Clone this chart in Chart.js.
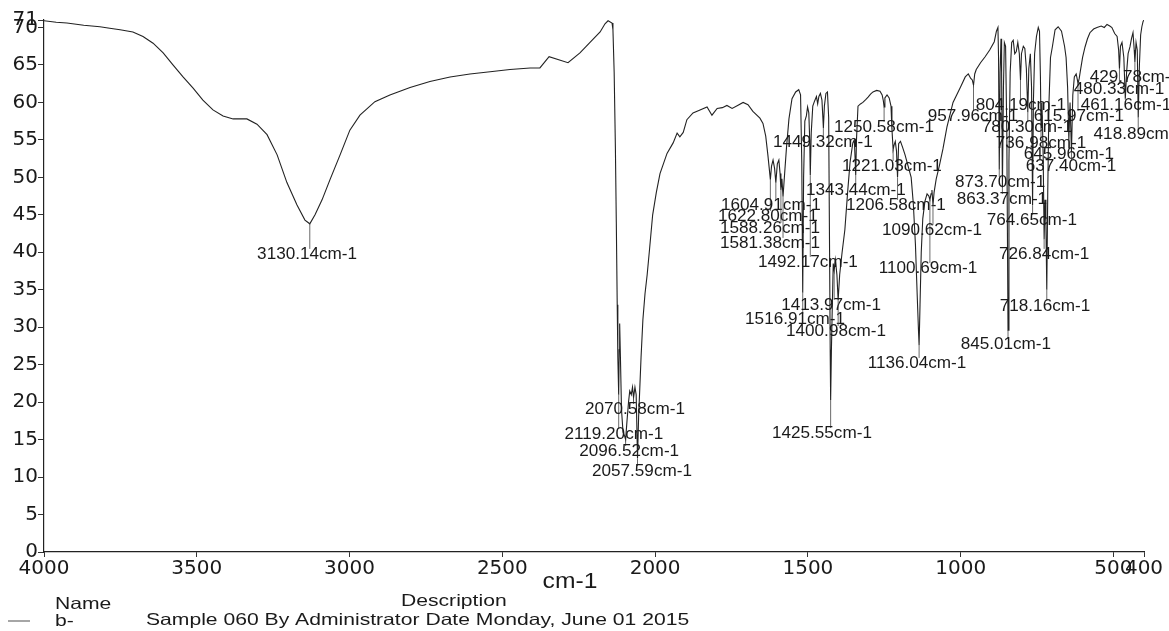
<!DOCTYPE html>
<html>
<head>
<meta charset="utf-8">
<script src="https://cdn.jsdelivr.net/npm/chart.js@4.4.1/dist/chart.umd.min.js"></script>
<style>
  body { margin: 0; background: #fff; }
  canvas { display: block; }
</style>
</head>
<body>
<canvas id="espectro" width="1169" height="631"></canvas>
<script>
// espectro IR: numero de onda (cm-1) x transmitancia (%T)
const numeroOnda = [
    4000, 3960, 3925, 3870, 3817, 3785, 3751, 3709, 3676, 3643, 3610, 3578, 3545, 3512, 3480, 3447,
    3414, 3381, 3336, 3303, 3270, 3237, 3205, 3172, 3146, 3130.14, 3113, 3090, 3064, 3031, 2999, 2966,
    2917, 2868, 2802, 2737, 2671, 2606, 2540, 2475, 2409, 2377, 2347, 2285, 2246, 2213, 2180, 2164,
    2154, 2141, 2138, 2134, 2130, 2127, 2124, 2122, 2119.20, 2117.5, 2116, 2113.5, 2110, 2105, 2100, 2096.52,
    2092, 2087, 2083, 2078, 2074, 2070.58, 2066, 2062, 2057.59, 2054, 2050, 2046, 2040, 2033, 2026, 2018,
    2008, 1996, 1984, 1961, 1941, 1928, 1919, 1908, 1896, 1876, 1853, 1830, 1814, 1797, 1780, 1765,
    1748, 1730, 1712, 1696, 1680, 1657, 1647, 1638, 1631, 1627, 1622.80, 1619, 1614, 1609, 1604.91, 1600,
    1595, 1591, 1588.26, 1585, 1581.38, 1577, 1570, 1562, 1552, 1540, 1530, 1524, 1520, 1516.91, 1514, 1510,
    1505, 1501, 1497, 1494, 1492.17, 1489, 1484, 1478, 1472, 1468, 1464, 1459, 1454, 1451, 1449.32, 1446,
    1441, 1436, 1432, 1429, 1427, 1425.55, 1423, 1420, 1417, 1413.97, 1410, 1405, 1400.98, 1396, 1388, 1379,
    1370, 1362, 1353, 1348, 1345.5, 1343.44, 1341, 1336, 1328, 1320, 1310, 1303, 1295, 1287, 1275, 1264,
    1257, 1253, 1250.58, 1248, 1241, 1234, 1228, 1225, 1221.03, 1218, 1214, 1210, 1206.58, 1203, 1197, 1190,
    1182, 1172, 1162, 1155, 1148, 1142, 1138, 1136.04, 1133, 1129, 1124, 1117, 1110, 1104, 1100.69, 1097,
    1094, 1090.62, 1087, 1080, 1070, 1058, 1045, 1025, 1000, 985, 975, 967, 962, 957.96, 954, 949,
    935, 920, 905, 890, 883, 878, 876, 873.70, 871, 868, 866, 863.37, 860, 857, 853, 849,
    845.01, 842, 838, 833, 828, 823, 818, 813, 808, 804.19, 801, 795, 790, 785, 780.30, 777,
    772, 768, 764.65, 762, 758, 752, 746, 742, 739, 736.98, 734, 730, 726.84, 724, 721, 718.16,
    715, 711, 706, 700, 691, 681, 670, 660, 655, 650, 645.96, 642, 637.40, 633, 628, 622,
    618, 615.97, 612, 609, 601, 593, 585, 577, 565, 554, 540, 530, 521, 512, 505, 496,
    488, 483, 480.33, 477, 472, 466, 461.16, 457, 452, 446, 441, 436, 432, 429.78, 426, 422,
    418.89, 415, 411, 407, 403, 400
];
const transmitancia = [
    70.9, 70.7, 70.6, 70.3, 70.1, 69.9, 69.7, 69.4, 68.8, 67.9, 66.6, 65.0, 63.4, 61.9, 60.3, 59.0,
    58.2, 57.8, 57.8, 57.1, 55.7, 53.0, 49.3, 46.3, 44.3, 43.8, 45.0, 47.0, 49.7, 53.0, 56.3, 58.3,
    60.1, 61.0, 62.0, 62.8, 63.4, 63.8, 64.1, 64.4, 64.6, 64.6, 66.1, 65.3, 66.6, 68.0, 69.4, 70.5,
    70.9, 70.6, 69.7, 64.0, 54.0, 44.0, 33.0, 26.0, 21.0, 27.0, 30.5, 26.0, 19.0, 16.0, 15.5, 15.0,
    17.5, 20.0, 21.5, 21.0, 22.0, 20.6, 22.0, 21.0, 12.5, 18.0, 22.0, 26.0, 31.0, 34.5, 37.0, 40.5,
    45.0, 48.0, 50.5, 53.2, 54.6, 55.9, 55.4, 56.0, 57.7, 58.6, 59.0, 59.4, 58.3, 59.2, 59.3, 59.6,
    59.2, 59.6, 60.0, 59.7, 58.8, 57.9, 57.2, 55.5, 53.0, 51.4, 49.7, 51.5, 52.3, 51.2, 49.3, 51.8,
    52.3, 50.5, 48.3, 49.8, 47.4, 50.0, 54.0, 57.8, 60.5, 61.4, 61.7, 61.0, 52.0, 34.6, 50.0, 57.5,
    58.2, 59.4, 58.6, 55.0, 50.3, 56.0, 59.5, 60.2, 60.8, 59.8, 60.8, 61.2, 60.3, 58.0, 56.6, 59.5,
    61.2, 61.4, 58.0, 40.0, 27.0, 20.3, 27.0, 33.0, 38.5, 37.6, 39.0, 37.0, 33.6, 37.0, 40.0, 43.0,
    48.0, 52.0, 54.6, 55.0, 52.5, 50.3, 55.0, 59.5, 59.8, 60.0, 60.4, 60.7, 61.1, 61.4, 61.6, 61.5,
    61.0, 60.2, 59.4, 60.6, 61.0, 60.6, 59.5, 56.5, 53.7, 54.3, 54.8, 53.5, 50.0, 54.5, 54.8, 54.0,
    53.0, 51.5, 50.0, 46.5, 41.0, 34.0, 29.5, 27.6, 33.0, 40.0, 44.5, 46.8, 47.8, 47.5, 47.0, 47.8,
    48.3, 46.3, 48.0, 49.8, 51.5, 53.8, 56.7, 60.0, 62.1, 63.4, 63.8, 63.2, 63.0, 62.3, 63.8, 64.4,
    65.3, 66.1, 67.0, 68.1, 69.5, 70.0, 66.0, 51.0, 64.0, 68.5, 64.0, 48.6, 62.0, 68.0, 67.5, 56.0,
    29.6, 52.0, 64.0, 68.0, 68.3, 66.5, 66.8, 68.0, 66.5, 63.0, 66.5, 67.5, 67.2, 64.5, 58.7, 64.5,
    66.5, 62.0, 46.3, 60.0, 66.5, 68.8, 70.0, 69.5, 63.5, 56.6, 60.0, 53.0, 41.7, 47.0, 44.0, 35.0,
    48.0, 60.0, 66.0, 67.4, 69.7, 70.1, 69.5, 67.5, 66.0, 62.0, 55.0, 60.0, 53.4, 61.0, 63.4, 63.8,
    63.0, 62.5, 63.2, 64.0, 66.0, 67.4, 68.5, 69.3, 69.8, 70.0, 70.2, 70.0, 70.4, 70.2, 70.0, 69.2,
    68.8, 67.0, 64.5, 67.5, 68.0, 66.0, 60.5, 64.0, 66.5, 67.4, 68.5, 69.3, 67.0, 65.4, 68.0, 67.0,
    58.0, 65.0, 69.0, 70.1, 70.8, 71.0
];

// picos marcados e onde fica o rotulo de cada um (cm-1, %T)
const picos = [
    3130.14, 2119.20, 2096.52, 2070.58, 2057.59, 1622.80, 1604.91, 1588.26, 1581.38, 1516.91,
    1492.17, 1449.32, 1425.55, 1413.97, 1400.98, 1343.44, 1250.58, 1221.03, 1206.58, 1136.04,
    1100.69, 1090.62, 957.96, 873.70, 863.37, 845.01, 804.19, 780.30, 764.65, 736.98,
    726.84, 718.16, 645.96, 637.40, 615.97, 480.33, 461.16, 429.78, 418.89
];
const rotuloWn = [
    3139, 2135, 2085, 2066, 2043, 1631, 1621, 1624, 1624, 1542,
    1500, 1451, 1454, 1424, 1408, 1343, 1251, 1225, 1212, 1143,
    1107, 1094, 960, 871, 865, 852, 803, 783, 767, 737,
    727, 724, 646, 639, 613, 482, 459, 430, 417
];
const rotuloT = [
    39.65, 15.62, 13.35, 18.96, 10.68, 44.73, 46.19, 43.12, 41.12, 30.97,
    38.58, 54.61, 15.75, 32.84, 29.37, 48.20, 56.61, 51.40, 46.19, 25.10,
    37.78, 42.86, 58.08, 49.27, 46.99, 27.64, 59.55, 56.61, 44.19, 54.47,
    39.65, 32.71, 53.00, 51.40, 58.08, 61.68, 59.55, 63.28, 55.67
];

const ticksX = [4000, 3500, 3000, 2500, 2000, 1500, 1000, 500, 400];
const ticksY = [0, 5, 10, 15, 20, 25, 30, 35, 40, 45, 50, 55, 60, 65, 70, 71];

// texto um pouco alargado na horizontal, como na impressao original
function escrever(ctx, texto, x, y, fonte, esticar, alinhar) {
    ctx.save();
    ctx.translate(x, y);
    ctx.scale(esticar, 1);
    ctx.font = fonte;
    ctx.textAlign = alinhar || 'center';
    ctx.textBaseline = 'middle';
    ctx.fillText(texto, 0, 0);
    ctx.restore();
}

const rotulos = {
    id: 'rotulos',
    afterDraw(chart) {
        const { ctx, scales: { x, y } } = chart;
        ctx.save();
        ctx.fillStyle = '#1a1a1a';
        ctx.strokeStyle = '#444';
        ctx.lineWidth = 0.8;

        picos.forEach((pico, i) => {
            const px = x.getPixelForValue(pico);
            const py = y.getPixelForValue(transmitancia[numeroOnda.indexOf(pico)]);
            const lx = x.getPixelForValue(rotuloWn[i]);
            const ly = y.getPixelForValue(rotuloT[i]);
            if (ly - 6 > py) {
                ctx.beginPath();
                ctx.moveTo(px, py);
                ctx.lineTo(px, ly - 6);
                ctx.stroke();
            }
            escrever(ctx, pico.toFixed(2) + 'cm-1', lx, ly, '16px "Liberation Sans"', 1.07);
        });

        // titulo do eixo e rodape
        escrever(ctx, 'cm-1', 570, 582, '22px "Liberation Sans"', 1.12);
        escrever(ctx, 'Name', 55, 604, '16.5px "Liberation Sans"', 1.28, 'left');
        escrever(ctx, 'Description', 401, 601, '16.5px "Liberation Sans"', 1.28, 'left');
        escrever(ctx, 'b-', 55, 621, '16.5px "Liberation Sans"', 1.28, 'left');
        escrever(ctx, 'Sample 060 By Administrator Date Monday, June 01 2015', 146, 620, '16.5px "Liberation Sans"', 1.28, 'left');

        ctx.strokeStyle = '#888';
        ctx.lineWidth = 1.5;
        ctx.beginPath();
        ctx.moveTo(8, 621);
        ctx.lineTo(30, 621);
        ctx.stroke();
        ctx.restore();
    }
};

const fonteEixo = { family: 'DejaVu Sans', size: 20 };

new Chart(document.getElementById('espectro').getContext('2d'), {
    type: 'line',
    data: {
        datasets: [{
            data: numeroOnda.map((wn, i) => ({ x: wn, y: transmitancia[i] })),
            borderColor: '#222',
            borderWidth: 1.1,
            pointRadius: 0,
            tension: 0,
            fill: false
        }]
    },
    options: {
        responsive: false,
        animation: false,
        layout: { padding: { top: 20, right: 25, left: 0, bottom: 0 } },
        plugins: { legend: { display: false }, tooltip: { enabled: false } },
        scales: {
            x: {
                type: 'linear',
                reverse: true,
                min: 400,
                max: 4000,
                afterBuildTicks: s => { s.ticks = ticksX.map(v => ({ value: v })); },
                afterFit: s => { s.height = 79; },
                grid: { drawOnChartArea: false, tickLength: 5, color: '#333' },
                border: { color: '#222', width: 1.2 },
                ticks: { autoSkip: false, maxRotation: 0, padding: 0, color: '#1a1a1a', font: fonteEixo, callback: v => String(v) }
            },
            y: {
                min: 0,
                max: 71,
                afterBuildTicks: s => { s.ticks = ticksY.map(v => ({ value: v })); },
                afterFit: s => { s.width = 44; },
                grid: { drawOnChartArea: false, tickLength: 6, color: '#333' },
                border: { color: '#222', width: 1.2 },
                ticks: { autoSkip: false, padding: 0, color: '#1a1a1a', font: fonteEixo, callback: v => String(v) }
            }
        }
    },
    plugins: [rotulos]
});
</script>
</body>
</html>
